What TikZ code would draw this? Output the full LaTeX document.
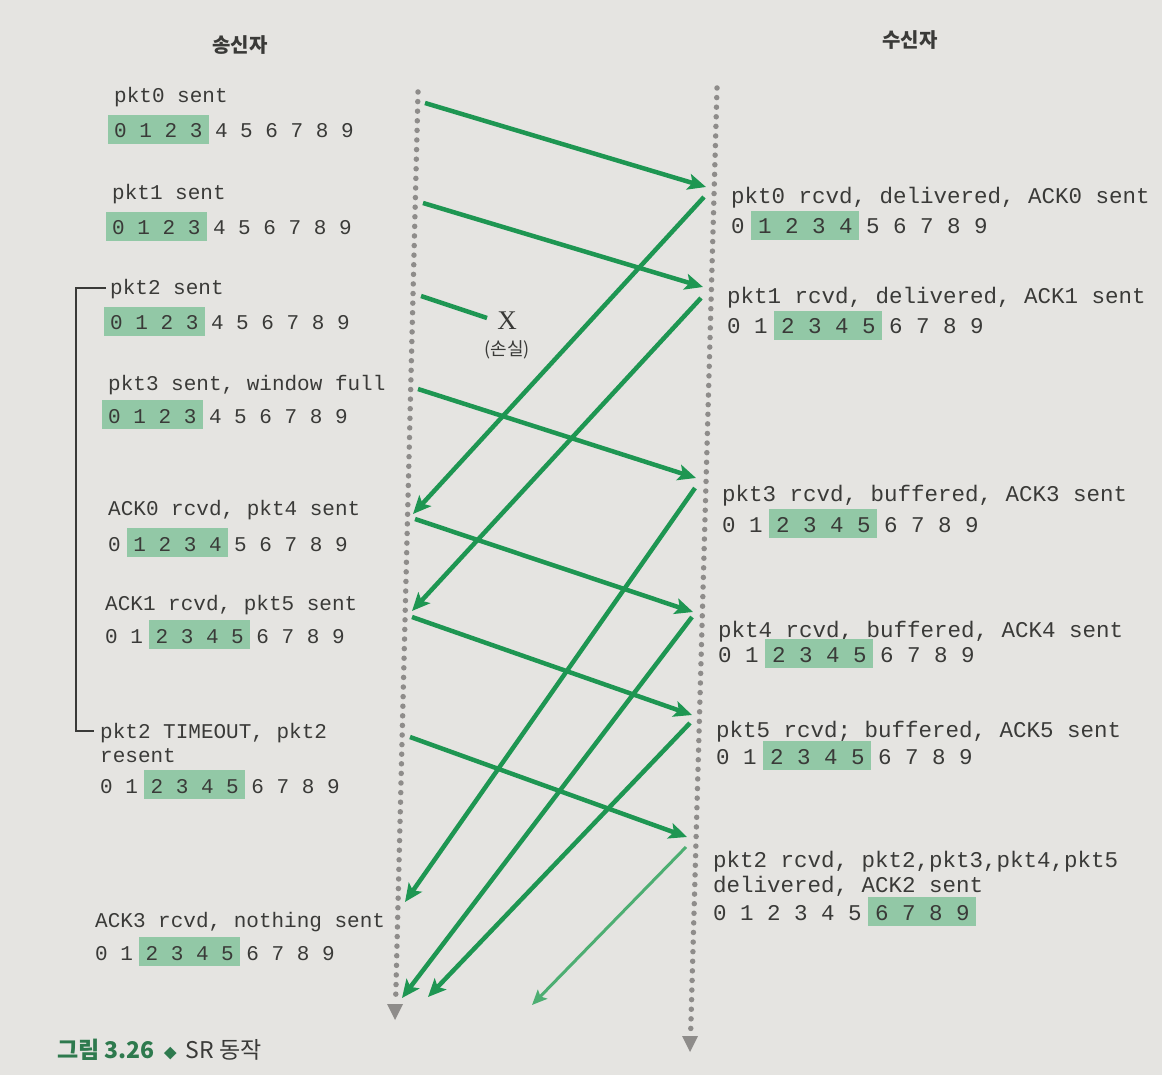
\documentclass[tikz,border=0pt]{standalone}
\usepackage{fontspec}
\setmainfont{Liberation Serif}
\newfontfamily\monof{Liberation Mono}
\newfontfamily\krf{Noto Sans CJK KR}
\usetikzlibrary{arrows.meta}
\definecolor{bg}{HTML}{E5E4E1}
\definecolor{grn}{HTML}{1E9652}
\definecolor{grnl}{HTML}{4DAE72}
\definecolor{hl}{HTML}{92C8A6}
\definecolor{txt}{HTML}{3A3A38}
\definecolor{dotc}{HTML}{8E8C8A}
\definecolor{capg}{HTML}{2E7A4E}
\tikzset{
  lmono/.style={font=\monof\fontsize{21}{24}\selectfont, text=txt, anchor=base west, inner sep=0pt},
  rmono/.style={font=\monof\fontsize{22.5}{26}\selectfont, text=txt, anchor=base west, inner sep=0pt},
  timeline/.style={dotc, line width=5.5pt, line cap=round, dash pattern=on 0pt off 9.6pt},
  msg/.style={grn, line width=4.5pt, -{Stealth[length=18pt,width=16pt,inset=4pt]}},
  lostmsg/.style={grn, line width=4.5pt},
  msglight/.style={grnl, line width=3pt, -{Stealth[length=15pt,width=13pt,inset=3pt]}},
  head/.style={font=\krf\bfseries\fontsize{20}{24}\selectfont, text=txt},
  bracketline/.style={txt, line width=1.2pt},
}
% #1 name, #2 x, #3 baseline y, #4 first, #5 last, #6 char width, #7 style
\newcommand\digrow[7]{%
  \fill[hl] ({#2+(2*#4-0.5)*#6},{#3-23}) rectangle ({#2+(2*#5+1.5)*#6},{#3+6});
  \node[#7] (#1) at (#2,#3) {0 1 2 3 4 5 6 7 8 9};}
\begin{document}
\begin{tikzpicture}[x=1pt,y=-1pt]
\useasboundingbox (0,0) rectangle (1162,1075);
\fill[bg] (0,0) rectangle (1162,1075);

% headers
\node[head] (snd) at (240,45) {송신자};
\node[head] (rcv) at (910,40) {수신자};

% timelines
\coordinate (Ltop) at (418,92);
\coordinate (Lmid) at (395.6,1002);
\coordinate (Lend) at (395,1020);
\coordinate (Rtop) at (717,88);
\coordinate (Rmid) at (690.6,1035);
\coordinate (Rend) at (690,1052);
\draw[timeline] (Ltop) -- (Lmid);
\draw[timeline] (Rtop) -- (Rmid);
\fill[dotc] (Lend) -- ++(-8,-16) -- ++(16,0) -- cycle;
\fill[dotc] (Rend) -- ++(-8,-16) -- ++(16,0) -- cycle;

% sender texts
\node[lmono] (lt0) at (114,103) {pkt0 sent};
\digrow{ld0}{114}{138}{0}{3}{12.6}{lmono}
\node[lmono] (lt1) at (112,200) {pkt1 sent};
\digrow{ld1}{112}{235}{0}{3}{12.6}{lmono}
\node[lmono] (lt2) at (110,295) {pkt2 sent};
\digrow{ld2}{110}{330}{0}{3}{12.6}{lmono}
\node[lmono] (lt3) at (108,390) {pkt3 sent, window full};
\digrow{ld3}{108}{423}{0}{3}{12.6}{lmono}
\node[lmono] (lt4) at (108,515) {ACK0 rcvd, pkt4 sent};
\digrow{ld4}{108}{551}{1}{4}{12.6}{lmono}
\node[lmono] (lt5) at (105,610) {ACK1 rcvd, pkt5 sent};
\digrow{ld5}{105}{643}{2}{5}{12.6}{lmono}
\node[lmono] (lto) at (100,738) {pkt2 TIMEOUT, pkt2};
\node[lmono] (ltr) at (100,762) {resent};
\digrow{ldo}{100}{793}{2}{5}{12.6}{lmono}
\node[lmono] (lt6) at (95,927) {ACK3 rcvd, nothing sent};
\digrow{ld6}{95}{960}{2}{5}{12.6}{lmono}

% timeout bracket
\draw[bracketline] ([shift={(-4pt,7pt)}]lt2.base west) -- (76,288) -- (76,731) -- ([shift={(-6pt,7pt)}]lto.base west);

% receiver texts
\node[rmono] (rt0) at (731,204) {pkt0 rcvd, delivered, ACK0 sent};
\digrow{rd0}{731}{234}{1}{4}{13.5}{rmono}
\node[rmono] (rt1) at (727,304) {pkt1 rcvd, delivered, ACK1 sent};
\digrow{rd1}{727}{334}{2}{5}{13.5}{rmono}
\node[rmono] (rt3) at (722,501) {pkt3 rcvd, buffered, ACK3 sent};
\digrow{rd3}{722}{532}{2}{5}{13.5}{rmono}
\node[rmono] (rt4) at (718,637) {pkt4 rcvd, buffered, ACK4 sent};
\digrow{rd4}{718}{662}{2}{5}{13.5}{rmono}
\node[rmono] (rt5) at (716,737) {pkt5 rcvd; buffered, ACK5 sent};
\digrow{rd5}{716}{764}{2}{5}{13.5}{rmono}
\node[rmono] (rt2) at (713,867) {pkt2 rcvd, pkt2,pkt3,pkt4,pkt5};
\node[rmono] (rt2b) at (713,892) {delivered, ACK2 sent};
\digrow{rd2}{713}{920}{6}{9}{13.5}{rmono}

% message end points
\coordinate (s0) at (425,103);  \coordinate (r0) at (706,187);
\coordinate (s1) at (423,203);  \coordinate (r1) at (703,287);
\coordinate (s2) at (421,296);  \coordinate (x2) at (487,318);
\coordinate (s3) at (418,389);  \coordinate (r3) at (696,478);
\coordinate (s4) at (415,519);  \coordinate (r4) at (693,612);
\coordinate (s5) at (412,617);  \coordinate (r5) at (692,715);
\coordinate (s2b) at (410,737); \coordinate (r2b) at (687,837);
\coordinate (a0s) at (704,197); \coordinate (a0e) at (413,514);
\coordinate (a1s) at (701,298); \coordinate (a1e) at (412,611);
\coordinate (a3s) at (695,488); \coordinate (a3e) at (405,902);
\coordinate (a4s) at (692,617); \coordinate (a4e) at (402,998);
\coordinate (a5s) at (690,723); \coordinate (a5e) at (428,997);
\coordinate (a2s) at (686,847); \coordinate (a2e) at (532,1005);

% data packets
\draw[msg] (s0) -- (r0);
\draw[msg] (s1) -- (r1);
\draw[lostmsg] (s2) -- (x2);
\draw[msg] (s3) -- (r3);
\draw[msg] (s4) -- (r4);
\draw[msg] (s5) -- (r5);
\draw[msg] (s2b) -- (r2b);
% acks
\draw[msg] (a0s) -- (a0e);
\draw[msg] (a1s) -- (a1e);
\draw[msg] (a3s) -- (a3e);
\draw[msg] (a4s) -- (a4e);
\draw[msg] (a5s) -- (a5e);
\draw[msglight] (a2s) -- (a2e);

% loss mark
\node[font=\fontsize{27}{29}\selectfont, text=txt, inner sep=0pt] (lossx) at (507,321) {X};
\node[font=\krf\fontsize{18}{21}\selectfont, text=txt, inner sep=0pt] (loss) at (507,350) {(손실)};

% caption
\node[font=\krf\fontsize{23}{27}\selectfont, text=txt, anchor=base west, inner sep=0pt] (cap) at (57,1058)
  {{\color{capg}\bfseries 그림 3.26}\hspace{9pt}{\color{capg}\fontsize{13}{13}\selectfont ◆}\hspace{9pt}SR 동작};
\end{tikzpicture}
\end{document}
